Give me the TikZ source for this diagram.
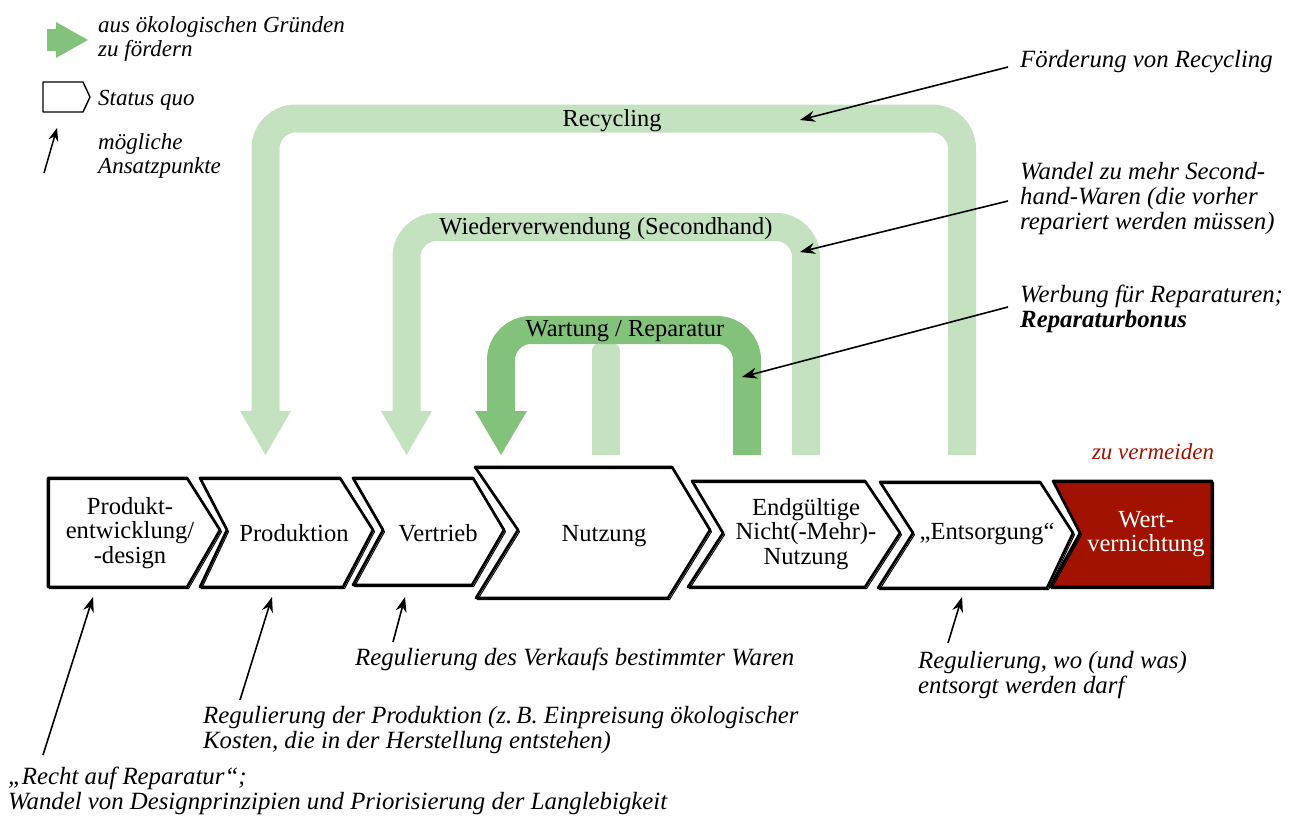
\documentclass[tikz,border=0pt]{standalone}
\usepackage{fontspec}
\setmainfont{Liberation Serif}
\usetikzlibrary{arrows.meta}
\definecolor{loopLight}{HTML}{C4E2C0}
\definecolor{loopDark}{HTML}{83C27A}
\definecolor{wasteRed}{HTML}{A11300}

% outlines of the value-chain chevrons
\def\shpDesign{(48,478) -- (187,478) -- (220,530) -- (187,587) -- (48,587) -- cycle}
\def\shpProd{(200,478) -- (340,478) -- (373,530) -- (343,587) -- (200,587) -- (227,530) -- cycle}
\def\shpVertrieb{(353,478) -- (473,478) -- (504,530) -- (472,585) -- (353,585) -- (383,530) -- cycle}
\def\shpNutzung{(475,467) -- (672,467) -- (710,530) -- (668,598) -- (476,598) -- (518,530) -- cycle}
\def\shpEnde{(692,481) -- (865,481) -- (900,533) -- (865,587) -- (688,587) -- (723,533) -- cycle}
\def\shpEntsorg{(880,482) -- (1040,482) -- (1073,533) -- (1047,588) -- (878,588) -- (913,533) -- cycle}
\def\shpWert{(1053,481) -- (1212,481) -- (1212,587) -- (1050,587) -- (1080,533) -- cycle}
\def\shpStatus{(43,82) -- (83,82) -- (90,97) -- (83,112) -- (43,112) -- cycle}

\begin{document}
\begin{tikzpicture}[x=1pt,y=-1pt,
  stage/.style={draw=black, line width=2.7pt, line join=round},
  stagesketch/.style={draw=black, line width=1pt, line join=round, shift={(1.5,1.7)}},
  stagetext/.style={font=\fontsize{24.6}{24.5}\selectfont, align=center, inner sep=0pt},
  bandtext/.style={font=\fontsize{24.4}{24}\selectfont, inner sep=0pt},
  note/.style={font=\fontsize{24.8}{25}\selectfont\itshape, align=left, anchor=west, inner sep=0pt},
  legendtext/.style={font=\fontsize{23}{23.5}\selectfont\itshape, align=left, anchor=west, inner sep=0pt},
  pointer/.style={draw=black, line width=1.6pt, -{Stealth[length=15pt,width=11pt]}},
  lightband/.style={draw=loopLight, line width=28pt, rounded corners=30pt},
  darkband/.style={draw=loopDark, line width=28pt, rounded corners=30pt},
]
\useasboundingbox (0,0) rectangle (1295,819);

% ---------- legend ----------
\fill[loopDark] (47,29) -- (56,29) -- (56,22) -- (88,40) -- (56,58) -- (56,51) -- (47,51) -- cycle;
\node[legendtext] (legGreen) at (98,39) {aus ökologischen Gründen\\zu fördern};
\draw[line width=1.4pt, line join=round] \shpStatus;
\node[legendtext] (legStatus) at (98,100) {Status quo};
\coordinate (legArrS) at (44,173);
\coordinate (legArrE) at (57,128);
\draw[draw=black, line width=1.5pt, -{Stealth[length=13pt,width=10pt]}] (legArrS) -- (legArrE);
\node[legendtext] (legPointer) at (98,156) {mögliche\\Ansatzpunkte};

% ---------- loops ----------
\draw[lightband] (265.5,412) |- (962,118.5) -- (962,455);
\fill[loopLight] (240,411) -- (291,411) -- (265.5,455) -- cycle;
\node[bandtext] (recyc) at (612,121) {Recycling};

\draw[lightband] (406.5,412) |- (806,227) -- (806,455);
\fill[loopLight] (381,411) -- (432,411) -- (406.5,455) -- cycle;
\node[bandtext] (reuse) at (606,229) {Wiederverwendung (Secondhand)};

\fill[loopLight, rounded corners=8pt] (592,455) -- (592,343) -- (620,343) [sharp corners] -- (620,455) -- cycle;

\draw[darkband] (501,412) |- (747,330) -- (747,455);
\fill[loopDark] (475,411) -- (527,411) -- (501,455) -- cycle;
\node[bandtext] (repair) at (625,331) {Wartung / Reparatur};

% ---------- value chain ----------
\fill[white] \shpDesign;
\draw[stage] \shpDesign;  \draw[stagesketch] \shpDesign;
\fill[white] \shpProd;
\draw[stage] \shpProd;    \draw[stagesketch] \shpProd;
\fill[white] \shpVertrieb;
\draw[stage] \shpVertrieb; \draw[stagesketch] \shpVertrieb;
\fill[white] \shpNutzung;
\draw[stage] \shpNutzung; \draw[stagesketch] \shpNutzung;
\fill[white] \shpEnde;
\draw[stage] \shpEnde;    \draw[stagesketch] \shpEnde;
\fill[white] \shpEntsorg;
\draw[stage] \shpEntsorg; \draw[stagesketch] \shpEntsorg;
\fill[wasteRed] \shpWert;
\draw[stage] \shpWert;    \draw[stagesketch] \shpWert;

\node[stagetext] (design) at (130,533) {Produkt-\\entwicklung/\\-design};
\node[stagetext] (produktion) at (294,533) {Produktion};
\node[stagetext] (vertrieb) at (438,533) {Vertrieb};
\node[stagetext] (nutzung) at (604,536) {Nutzung};
\node[stagetext] (endnutzung) at (806,534) {Endgültige\\Nicht(-Mehr)-\\Nutzung};
\node[stagetext] (entsorgung) at (987,534) {„Entsorgung“};
\node[stagetext, text=white] (wert) at (1146,534) {Wert-\\vernichtung};
\node[font=\fontsize{23}{23}\selectfont\itshape, text=wasteRed, inner sep=0pt] (avoid) at (1153,452) {zu vermeiden};

% ---------- starting points, upper right ----------
\node[note] (nRecyc) at (1020,62) {Förderung von Recycling};
\node[note] (nReuse) at (1020,199) {Wandel zu mehr Second-\\hand-Waren (die vorher\\repariert werden müssen)};
\node[note] (nRepair) at (1020,309) {Werbung für Reparaturen;\\\textbf{Reparaturbonus}};

\coordinate (pRecycS) at (1008,67);
\coordinate (pRecycE) at (800,120);
\coordinate (pReuseS) at (1008,201);
\coordinate (pReuseE) at (800,252);
\coordinate (pRepairS) at (1008,307);
\coordinate (pRepairE) at (742,377);
\draw[pointer] (pRecycS) -- (pRecycE);
\draw[pointer] (pReuseS) -- (pReuseE);
\draw[pointer] (pRepairS) -- (pRepairE);

% ---------- starting points, below ----------
\node[note] (nDesign) at (8,791) {„Recht auf Reparatur“;\\Wandel von Designprinzipien und Priorisierung der Langlebigkeit};
\node[note] (nProd) at (203,730) {Regulierung der Produktion (z.\,B. Einpreisung ökologischer\\Kosten, die in der Herstellung entstehen)};
\node[note] (nVertrieb) at (355,659) {Regulierung des Verkaufs bestimmter Waren};
\node[note] (nEntsorg) at (918,675) {Regulierung, wo (und was)\\entsorgt werden darf};

\coordinate (qDesignS) at (43,755);
\coordinate (qDesignE) at (93,597);
\coordinate (qProdS) at (240,700);
\coordinate (qProdE) at (272,597);
\coordinate (qVertS) at (393,642);
\coordinate (qVertE) at (405,597);
\coordinate (qEntsS) at (948,643);
\coordinate (qEntsE) at (962,597);
\draw[pointer] (qDesignS) -- (qDesignE);
\draw[pointer] (qProdS) -- (qProdE);
\draw[pointer] (qVertS) -- (qVertE);
\draw[pointer] (qEntsS) -- (qEntsE);
\end{tikzpicture}
\end{document}
